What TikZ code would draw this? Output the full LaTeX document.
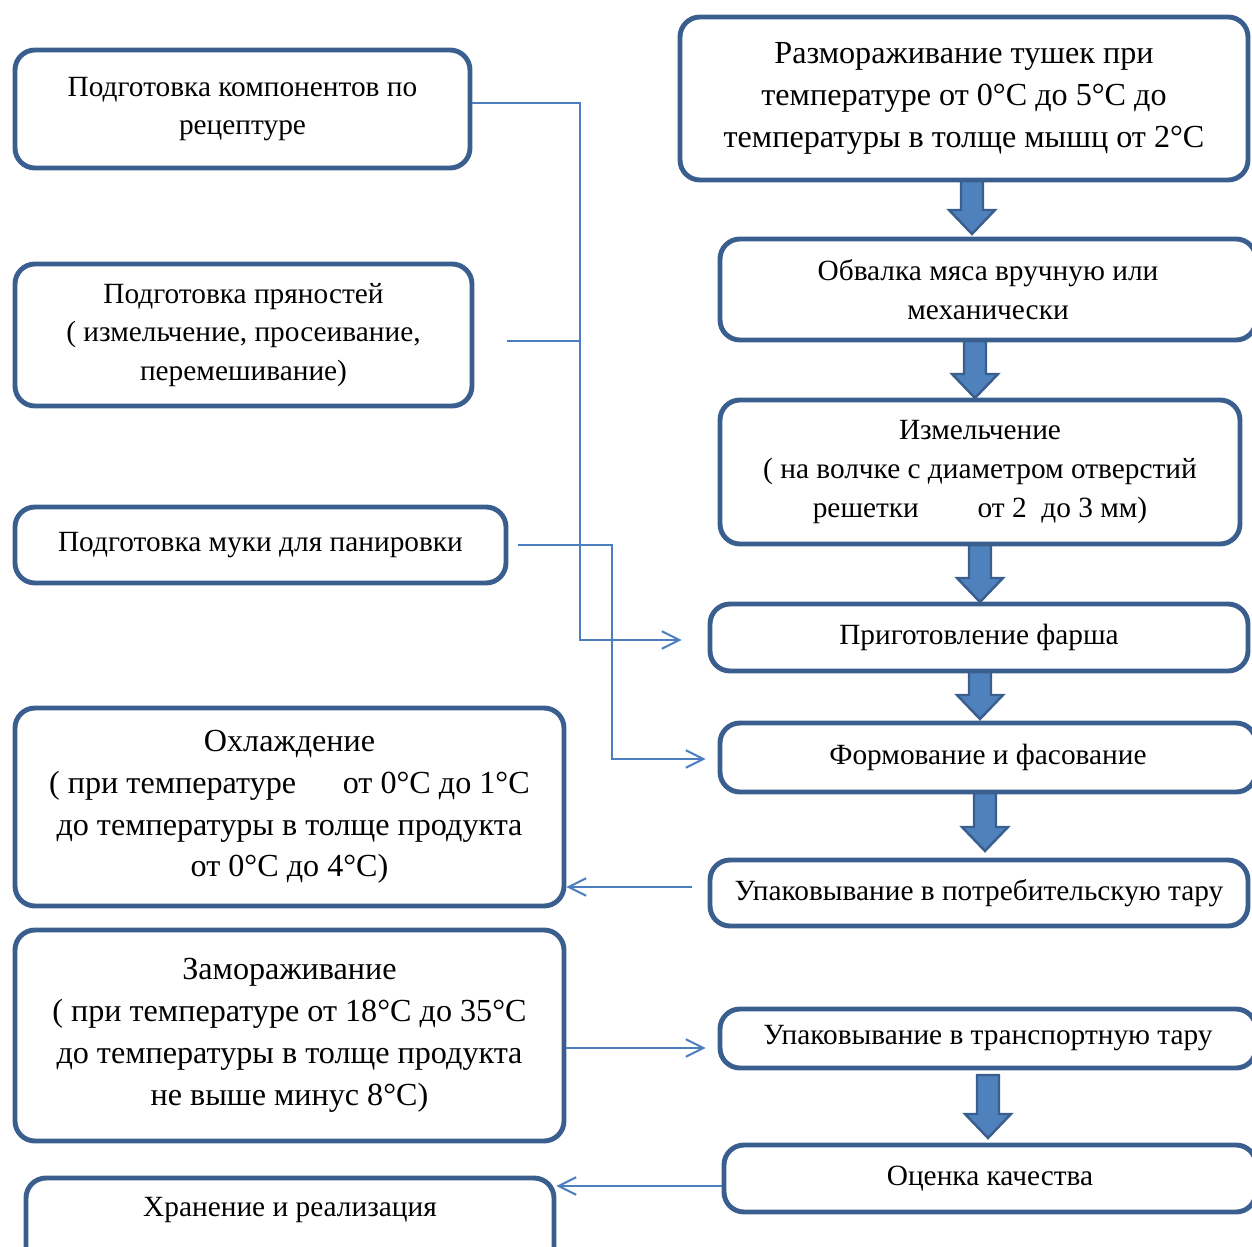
\documentclass[tikz,border=0pt]{standalone}
\usepackage{fontspec}
\setmainfont{Liberation Serif}
\usetikzlibrary{arrows.meta,calc}
\definecolor{bord}{HTML}{3A5F8F}
\definecolor{lin}{HTML}{4A7EBF}
\definecolor{afill}{HTML}{4F81BD}
\definecolor{aline}{HTML}{3A5F8F}
\newcommand\bx[7]{\node[box,#7, minimum width={(#4-#2)*0.02cm}, minimum height={(#5-#3)*0.02cm}] (#1) at ({(#2+#4)/2},{(#3+#5)/2}) {#6};}
\newcommand\barrow[3]{\draw[aline, fill=afill, line width=1.4pt] ({#1-11},#2) -- ({#1+11},#2) -- ({#1+11},{#3-24}) -- ({#1+23},{#3-24}) -- (#1,#3) -- ({#1-23},{#3-24}) -- ({#1-11},{#3-24}) -- cycle;}
\begin{document}
\begin{tikzpicture}[x=0.02cm,y=-0.02cm,
  box/.style={draw=bord, line width=2.8pt, rounded corners=0.4cm, align=center, inner sep=0pt, fill=white},
  big/.style={font=\fontsize{18.3}{23.8}\selectfont},
  small/.style={font=\fontsize{16.7}{22.1}\selectfont},
  conn/.style={draw=lin, line width=1.1pt},
  tip/.style={-{Straight Barb[length=10pt,width=10pt]}}
]
\useasboundingbox (0,0) rectangle (1252,1247);
\begin{scope}
\clip (0,0) rectangle (1252,1247);
% block arrows
\barrow{972}{180}{234}
\barrow{975}{340}{398}
\barrow{980}{544}{602}
\barrow{980}{671}{719}
\barrow{985}{792}{851}
\barrow{988}{1075}{1138}
% left boxes
\bx{L1}{15}{50}{470}{168}{Подготовка компонентов по\\рецептуре}{small}
\bx{L2}{15}{264}{472}{406}{Подготовка пряностей\\( измельчение, просеивание,\\перемешивание)}{small}
\bx{L3}{15}{507}{506}{583}{Подготовка муки для панировки}{small}
\bx{L4}{15}{708}{564}{906}{Охлаждение\\( при температуре\hspace{1.2em} от 0°C до 1°C\\до температуры в толще продукта\\от 0°C до 4°C)}{big}
\bx{L5}{15}{930}{564}{1141}{Замораживание\\( при температуре от 18°C до 35°C\\до температуры в толще продукта\\не выше минус 8°C)}{big}
\bx{L6}{26}{1178}{554}{1275}{}{small}
\node[small] (t6) at (290,1210) {Хранение и реализация};
% right boxes
\bx{R1}{680}{17}{1248}{180}{Размораживание тушек при\\температуре от 0°C до 5°C до\\температуры в толще мышц от 2°C}{big}
\bx{R2}{720}{239}{1256}{340}{Обвалка мяса вручную или\\механически}{small}
\bx{R3}{720}{400}{1240}{544}{Измельчение\\( на волчке с диаметром отверстий\\решетки\hspace{2.0em}от 2\ \ до 3 мм)}{small}
\bx{R4}{710}{604}{1248}{671}{Приготовление фарша}{small}
\bx{R5}{720}{723}{1256}{792}{Формование и фасование}{small}
\bx{R6}{710}{860}{1248}{926}{Упаковывание в потребительскую тару}{small}
\bx{R7}{720}{1009}{1256}{1068}{Упаковывание в транспортную тару}{small}
\bx{R8}{724}{1145}{1256}{1212}{Оценка качества}{small}
\end{scope}
% connectors
\coordinate (j1) at (580,103);
\coordinate (j2) at (580,640);
\coordinate (j3) at (580,341);
\coordinate (j4) at (612,545);
\coordinate (j5) at (612,759);
\coordinate (k1) at (640,887);
\coordinate (k2) at (640,1048);
\coordinate (k3) at (640,1186);
\draw[conn,tip, shorten >=0.52cm] (j1 -| L1.east) -- (j1) -- (j2) -- (j2 -| R4.west);
\draw[conn, shorten <=0.66cm] (j3 -| L2.east) -- (j3);
\draw[conn,tip, shorten <=0.2cm, shorten >=0.24cm] (j4 -| L3.east) -- (j4) -- (j5) -- (j5 -| R5.west);
\draw[conn,tip, shorten <=0.32cm] (k1 -| R6.west) -- (k1 -| L4.east);
\draw[conn,tip, shorten >=0.24cm] (k2 -| L5.east) -- (k2 -| R7.west);
\draw[conn,tip] (k3 -| R8.west) -- (k3 -| L6.east);
\end{tikzpicture}
\end{document}
